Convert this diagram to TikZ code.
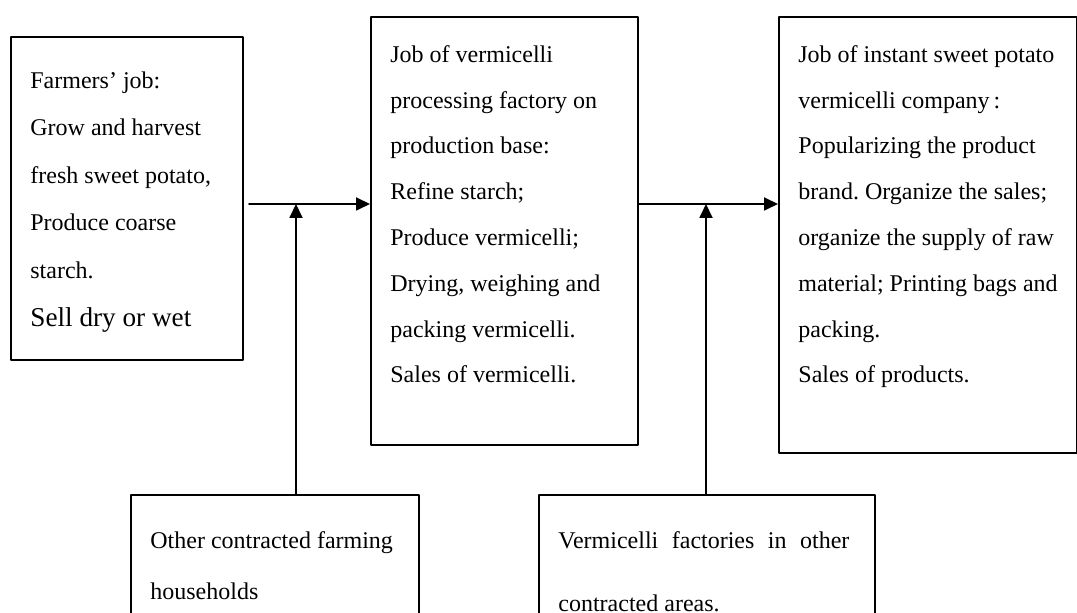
\documentclass[tikz,border=0pt]{standalone}
\usepackage{fontspec}
\setmainfont{Liberation Serif}
\usetikzlibrary{arrows.meta}
\frenchspacing

\begin{document}
\begin{tikzpicture}[x=0.5pt,y=-0.5pt,line cap=round,line join=round,
  box/.style={draw,line width=0.9pt,inner sep=0pt,anchor=north west},
  txt/.style={anchor=north west,inner sep=0pt,align=left,
    font=\fontsize{12}{22.9}\selectfont,
    execute at begin node=\rule{0pt}{9pt}},
  flow/.style={line width=0.9pt,-{Triangle[length=7pt,width=6.5pt]}}]
  \useasboundingbox (0,0) rectangle (1077,613);

  % boxes of the chain
  \node[box,minimum width=116pt,minimum height=161.5pt] (farm) at (10,36) {};
  \node[box,minimum width=133.5pt,minimum height=214pt] (mill) at (370,16) {};
  \node[box,minimum width=149pt,minimum height=218pt] (firm) at (778,16) {};
  \node[box,minimum width=144pt,minimum height=70pt] (other) at (130,494) {};
  \node[box,minimum width=168pt,minimum height=70pt] (areas) at (538,494) {};

  \node[txt,font=\fontsize{12}{23.8}\selectfont] (farmtxt)
    at ([xshift=10pt,yshift=-17.5pt]farm.north west)
    {Farmers' job:\\Grow and harvest\\fresh sweet potato,\\Produce coarse\\
     starch.\\{\fontsize{13.6}{23.8}\selectfont Sell dry or wet}};
  \node[txt] (milltxt) at ([xshift=10pt,yshift=-14.5pt]mill.north west)
    {Job of vermicelli\\processing factory on\\production base:\\Refine starch;\\
     Produce vermicelli;\\Drying, weighing and\\packing vermicelli.\\
     Sales of vermicelli.};
  \node[txt] (firmtxt) at ([xshift=10pt,yshift=-14.5pt]firm.north west)
    {Job of instant sweet potato\\vermicelli company\,:\\Popularizing the product\\
     brand. Organize the sales;\\organize the supply of raw\\
     material; Printing bags and\\packing.\\Sales of products.};
  \node[txt,font=\fontsize{12}{25.5}\selectfont] (othertxt)
    at ([xshift=10pt,yshift=-18.5pt]other.north west)
    {Other contracted farming\\households};
  \node[txt,font=\fontsize{12}{31.5}\selectfont] (areastxt)
    at ([xshift=10pt,yshift=-18.5pt]areas.north west)
    {\makebox[145.5pt][s]{Vermicelli factories in other}\\contracted areas.};

  % connectors
  \coordinate (start) at (249,204);
  \coordinate (join1) at (296,204);
  \coordinate (join2) at (706,204);
  \draw[flow] (start) -- (start -| mill.west);
  \draw[flow] (join1 |- other.north) -- (join1);
  \draw[flow] (join2 -| mill.east) -- (join2 -| firm.west);
  \draw[flow] (join2 |- areas.north) -- (join2);
\end{tikzpicture}
\end{document}
